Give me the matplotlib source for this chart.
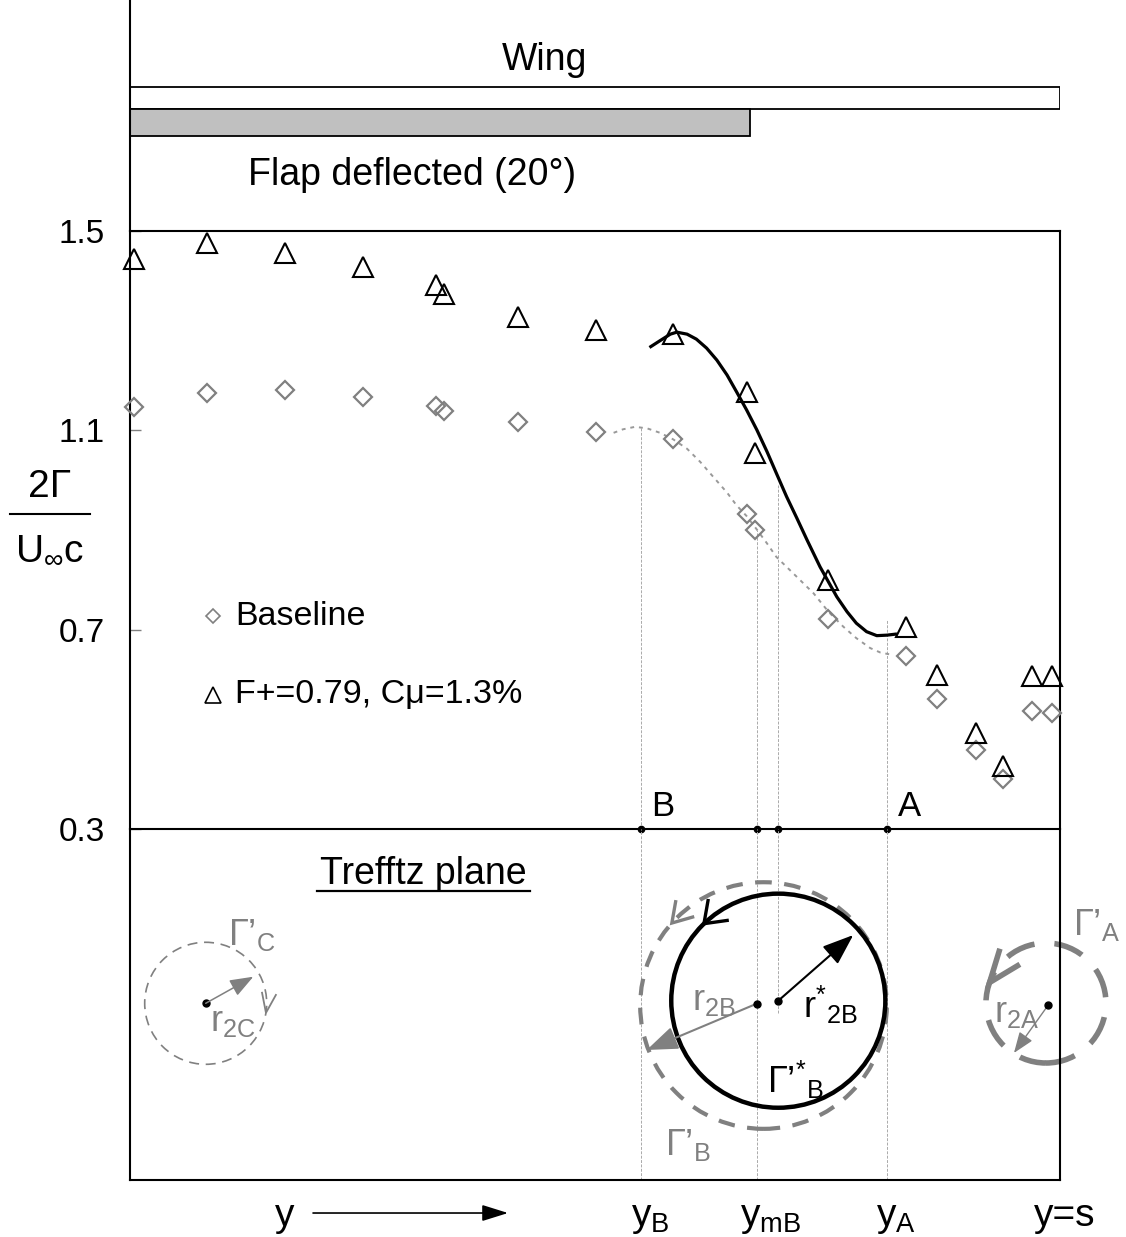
import numpy as np
import matplotlib
matplotlib.use('Agg')
import matplotlib.pyplot as plt
from matplotlib.patches import Circle
from matplotlib.lines import Line2D

plt.rcParams['font.family'] = ['Liberation Sans', 'DejaVu Sans']
plt.rcParams['mathtext.fontset'] = 'custom'
plt.rcParams['mathtext.rm'] = 'Liberation Sans'
plt.rcParams['mathtext.it'] = 'Liberation Sans'
plt.rcParams['mathtext.default'] = 'regular'

# ---- data (span fraction y/s, 2Gamma/(U c)) ----
span_pos = [0.004, 0.083, 0.167, 0.251, 0.329, 0.338, 0.417, 0.501, 0.584,
            0.663, 0.672, 0.751, 0.834, 0.868, 0.910, 0.939, 0.970, 0.991]
baseline = [1.147, 1.174, 1.180, 1.166, 1.149, 1.139, 1.117, 1.096, 1.083,
            0.933, 0.899, 0.721, 0.648, 0.560, 0.458, 0.401, 0.537, 0.532]
forced = [1.444, 1.475, 1.456, 1.427, 1.392, 1.374, 1.328, 1.302, 1.294,
          1.176, 1.055, 0.799, 0.705, 0.610, 0.493, 0.426, 0.608, 0.608]

# fitted curve through the forced case (solid)
fit_f_x = [0.560, 0.570, 0.581, 0.588, 0.599, 0.609, 0.620, 0.631, 0.642, 0.652,
           0.663, 0.674, 0.685, 0.695, 0.706, 0.717, 0.728, 0.735, 0.742, 0.751,
           0.760, 0.771, 0.781, 0.792, 0.803, 0.814, 0.823]
fit_f_y = [1.268, 1.280, 1.293, 1.297, 1.293, 1.283, 1.265, 1.241, 1.211, 1.178,
           1.141, 1.101, 1.057, 1.014, 0.967, 0.924, 0.880, 0.853, 0.826, 0.796,
           0.766, 0.736, 0.713, 0.696, 0.688, 0.689, 0.691]
# fitted curve through the baseline (dotted)
fit_b_x = [0.520, 0.530, 0.543, 0.556, 0.570, 0.584, 0.599, 0.613, 0.627, 0.642,
           0.652, 0.663, 0.674, 0.685, 0.695, 0.717, 0.735, 0.751, 0.767, 0.781,
           0.796, 0.807, 0.821]
fit_b_y = [1.095, 1.102, 1.107, 1.104, 1.095, 1.082, 1.063, 1.037, 1.007, 0.975,
           0.950, 0.928, 0.901, 0.873, 0.846, 0.806, 0.773, 0.736, 0.706, 0.683,
           0.663, 0.654, 0.649]

wing_span = 1.0
flap_span = 2 / 3
y_ticks = [0.3, 0.7, 1.1, 1.5]
tick_labels = ['0.3', '0.7', '1.1', '1.5']

# stations: yB, ymB, ymB*, yA
y_B, y_mB, y_mBs, y_A = 0.549, 0.674, 0.697, 0.814
station_top = [1.105, 0.90, 0.99, 0.72]

GREY = '#808080'
W, H = 1126, 1237
fig = plt.figure(figsize=(W / 100, H / 100), dpi=100)


def box(x0, y0, x1, y1):
    return [x0 / W, 1 - y1 / H, (x1 - x0) / W, (y1 - y0) / H]


def fpx(x, y):
    return x / W, 1 - y / H


axw = fig.add_axes(box(130, 0, 1060, 231))
ax = fig.add_axes(box(130, 231, 1060, 829))
axt = fig.add_axes(box(130, 829, 1060, 1180))

# ---------------- wing sketch ----------------
axw.set_xlim(0, 1)
axw.set_ylim(231, 0)
for s in ['top', 'right', 'bottom']:
    axw.spines[s].set_visible(False)
axw.spines['left'].set_linewidth(1.5)
axw.set_xticks([])
axw.set_yticks([])
axw.patch.set_alpha(0)
axw.barh([98], [wing_span], height=22, left=0, color='white', edgecolor='k', lw=1.3)
axw.barh([122.5], [flap_span], height=27, left=0, color='#c0c0c0', edgecolor='k', lw=1.3)
axw.text(0.446, 60, 'Wing', fontsize=27, ha='center', va='center')
axw.text(0.127, 175, 'Flap deflected (20°)', fontsize=27, ha='left', va='center')

# ---------------- loading plot ----------------
ax.set_xlim(0, 1)
ax.set_ylim(0.3, 1.5)
ax.set_xticks([])
ax.set_yticks(y_ticks)
ax.set_yticklabels(tick_labels, fontsize=24)
ax.tick_params(axis='y', direction='in', length=8, width=1, color=GREY, pad=18)
for s in ax.spines.values():
    s.set_linewidth(1.5)

for xs, yt in zip([y_B, y_mB, y_mBs, y_A], station_top):
    ax.plot([xs, xs], [0.3, yt], color='#aaaaaa', lw=0.7, ls=(0, (3, 1.5)), zorder=1)

ax.plot(fit_b_x, fit_b_y, color='#999999', lw=1.4, ls=(0, (2, 2.5)), zorder=2)
ax.plot(fit_f_x, fit_f_y, color='k', lw=2.3, zorder=2)
ax.plot(span_pos, baseline, 'D', ms=9.5, mfc='none', mec=GREY, mew=1.6, clip_on=False, zorder=3)
ax.plot(span_pos, forced, '^', ms=14, mfc='none', mec='k', mew=1.5, clip_on=False, zorder=3)

ax.plot([y_B, y_mB, y_mBs, y_A], [0.3] * 4, 'o', color='k', ms=4.5, clip_on=False, zorder=5)
ax.text(y_B + 0.011, 0.313, 'B', fontsize=25, va='bottom')
ax.text(y_A + 0.012, 0.313, 'A', fontsize=25, va='bottom')

# legend keys
ax.plot([0.089], [0.727], 'D', ms=7.5, mfc='none', mec=GREY, mew=1.2)
ax.plot([0.089], [0.569], '^', ms=11.5, mfc='none', mec='k', mew=1.2)
ax.text(0.113, 0.727, 'Baseline', fontsize=24.5, va='center')
ax.text(0.113, 0.569, 'F+=0.79, Cμ=1.3%', fontsize=24.5, va='center')

# y label as fraction
fig.text(*fpx(50, 497), '2Γ', fontsize=28, ha='center', va='baseline')
fig.add_artist(Line2D([10 / W, 90 / W], [1 - 514 / H] * 2, color='k', lw=1.5))
fig.text(*fpx(50, 560), r'U$_{∞}$c', fontsize=28, ha='center', va='baseline')

# ---------------- Trefftz plane ----------------
axt.set_xlim(0, 1)
axt.set_ylim(0, 351 / 930)
axt.set_xticks([])
axt.set_yticks([])
axt.spines['top'].set_visible(False)
for s in ['left', 'right', 'bottom']:
    axt.spines[s].set_linewidth(1.5)
axt.patch.set_alpha(0)

top_t = 351 / 930
for xs in [y_B, y_mB, y_A]:
    axt.plot([xs, xs], [0, top_t], color='#aaaaaa', lw=0.7, ls=(0, (3, 1.5)), zorder=1)
axt.plot([y_mBs, y_mBs], [0.18, top_t], color='#aaaaaa', lw=0.7, ls=(0, (3, 1.5)), zorder=1)

axt.text(0.3156, 0.329, 'Trefftz plane', fontsize=27, ha='center', va='center')
axt.plot([0.2011, 0.4301], [0.3105, 0.3105], color='k', lw=1.6)


def circ_head(c, r, ang, sign, color, lw, length, half, rot=0):
    # open V arrowhead sitting on the circle, pointing along the rotation
    a = np.radians(ang)
    tip = np.array([c[0] + r * np.cos(a), c[1] + r * np.sin(a)])
    d = sign * np.array([-np.sin(a), np.cos(a)])
    q = np.radians(rot)
    d = np.array([d[0] * np.cos(q) - d[1] * np.sin(q), d[0] * np.sin(q) + d[1] * np.cos(q)])
    pts = []
    for s in (1, -1):
        h = np.radians(180 + s * half)
        v = np.array([d[0] * np.cos(h) - d[1] * np.sin(h), d[0] * np.sin(h) + d[1] * np.cos(h)])
        pts.append(tip + length * v)
    axt.plot([pts[0][0], tip[0], pts[1][0]], [pts[0][1], tip[1], pts[1][1]],
             color=color, lw=lw, solid_joinstyle='miter', solid_capstyle='butt',
             clip_on=False, zorder=6)


def radius(p0, p1, color, lw, scale):
    axt.annotate('', xy=p1, xytext=p0,
                 arrowprops=dict(arrowstyle='-|>,head_length=0.8,head_width=0.3',
                                 color=color, lw=lw, mutation_scale=scale,
                                 shrinkA=0, shrinkB=0),
                 annotation_clip=False, zorder=6)


# vortex C
cC, rC = (0.0814, 0.190), 0.0656
axt.add_patch(Circle(cC, rC, fill=False, ec=GREY, lw=1.2, ls=(0, (6, 4)), clip_on=False))
radius(cC, (0.1326, 0.2186), GREY, 1.1, 18)
circ_head(cC, rC, -9, -1, GREY, 1.3, 0.023, 20)
axt.plot(*cC, 'o', color='k', ms=5)
axt.text(0.1054, 0.2634, 'Γ’$_C$', fontsize=26, color=GREY, va='center')
axt.text(0.0865, 0.170, 'r$_{2C}$', fontsize=26, color=GREY, va='center')

# vortex B
cBd, rBd = (0.6812, 0.1876), 0.1326
cBs, rBs = (0.6971, 0.1928), 0.1151
axt.add_patch(Circle(cBd, rBd, fill=False, ec=GREY, lw=3, ls=(0, (4, 3)), clip_on=False))
axt.add_patch(Circle(cBs, rBs, fill=False, ec='k', lw=3.2, clip_on=False))
circ_head(cBs, rBs, 134, 1, 'k', 2.4, 0.027, 36)
circ_head(cBd, rBd, 138, 1, GREY, 2.4, 0.025, 32)
radius(cBs, (0.7777, 0.2634), 'k', 1.5, 24)
radius((0.6739, 0.1896), (0.5556, 0.1398), GREY, 1.5, 24)
axt.plot([0.6739, 0.6971], [0.1896, 0.1928], 'o', color='k', ms=5, zorder=7)
axt.text(0.604, 0.1935, 'r$_{2B}$', fontsize=26, color=GREY, va='center')
axt.text(0.7237, 0.188, 'r$^{*}{}_{2B}$', fontsize=26, color='k', va='center')
axt.text(0.685, 0.1075, 'Γ’$^{*}{}_{B}$', fontsize=26, color='k', va='center')
axt.text(0.575, 0.0376, 'Γ’$_{B}$', fontsize=26, color=GREY, va='center')

# vortex A
cA, rA = (0.9849, 0.1903), 0.0645
axt.add_patch(Circle(cA, rA, fill=False, ec=GREY, lw=4, ls=(0, (5.4, 3.6)), clip_on=False))
circ_head(cA, rA, 160, 1, GREY, 4, 0.038, 21, rot=-18)
radius((0.9874, 0.1882), (0.9505, 0.1366), GREY, 1.0, 16)
axt.plot(0.9874, 0.1882, 'o', color='k', ms=5, clip_on=False, zorder=7)
axt.text(1.014, 0.274, 'Γ’$_{A}$', fontsize=26, color=GREY, va='center')
axt.text(0.9285, 0.1796, 'r$_{2A}$', fontsize=26, color=GREY, va='center')

# span labels below
yb = -0.0495
axt.text(0.1667, yb, 'y', fontsize=28, ha='center', va='baseline')
axt.annotate('', xy=(0.4065, -0.0355), xytext=(0.1968, -0.0355),
             arrowprops=dict(arrowstyle='-|>,head_length=0.8,head_width=0.25',
                             color='k', lw=1.2, mutation_scale=20, shrinkA=0, shrinkB=0),
             annotation_clip=False)
axt.text(0.5591, yb, 'y$_B$', fontsize=28, ha='center', va='baseline')
axt.text(0.6892, yb, 'y$_{mB}$', fontsize=28, ha='center', va='baseline')
axt.text(0.8237, yb, 'y$_A$', fontsize=28, ha='center', va='baseline')
axt.text(1.0054, yb, 'y=s', fontsize=28, ha='center', va='baseline')

fig.savefig('out.png', dpi=100)
